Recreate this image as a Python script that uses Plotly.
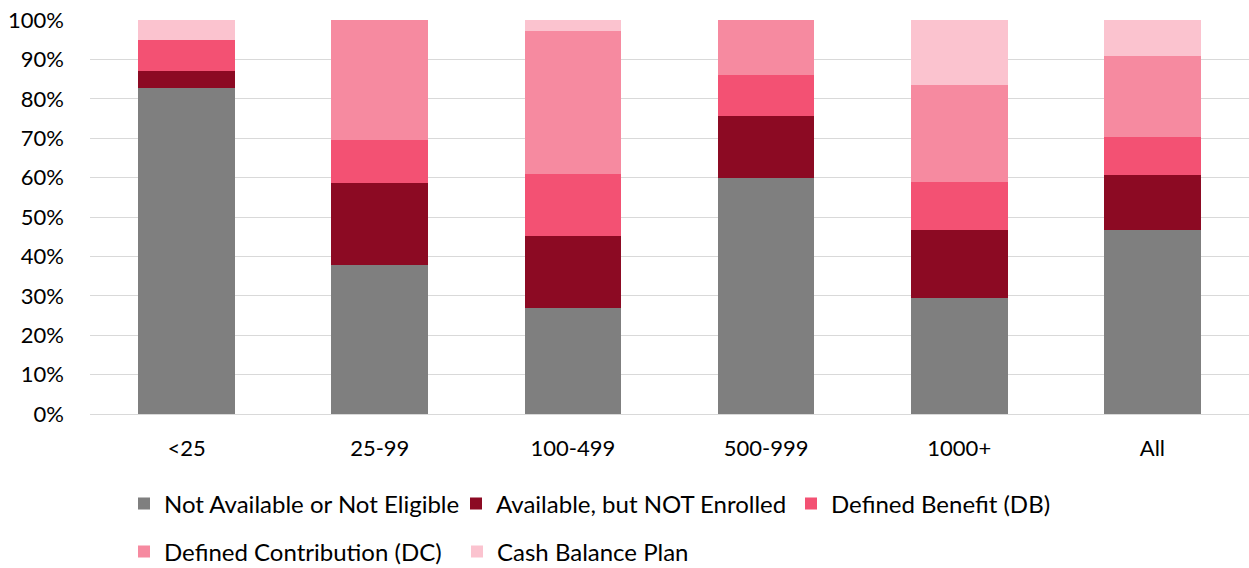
import plotly.graph_objects as go

categories = ["<25", "25-99", "100-499", "500-999", "1000+", "All"]
not_available = [82.8, 37.9, 26.8, 59.9, 29.5, 46.7]
not_enrolled = [4.2, 20.7, 18.4, 15.8, 17.2, 14.0]
defined_benefit = [8.0, 11.0, 15.8, 10.4, 12.3, 9.5]
defined_contribution = [0.0, 30.4, 36.1, 13.9, 24.4, 20.7]
cash_balance = [5.0, 0.0, 2.9, 0.0, 16.6, 9.1]

series = [
    ("Not Available or Not Eligible", not_available, "#7F7F7F"),
    ("Available, but NOT Enrolled", not_enrolled, "#8C0A23"),
    ("Defined Benefit (DB)", defined_benefit, "#F35173"),
    ("Defined Contribution (DC)", defined_contribution, "#F68AA0"),
    ("Cash Balance Plan", cash_balance, "#FBC3CF"),
]

FONT = "Lato"
W, H = 1249, 568
ML, MR, MT, MB = 90, 0, 20, 154
PW, PH = W - ML - MR, H - MT - MB

# legend positions (pixel x of legend box left, pixel y of row centre)
leg_px = [(124, 504), (456, 504), (791, 504), (124, 552), (457, 552)]

fig = go.Figure()
for i, (name, vals, col) in enumerate(series):
    lg = "legend" if i == 0 else f"legend{i+1}"
    fig.add_trace(go.Bar(
        x=categories, y=[v / 100 for v in vals], name=name,
        marker=dict(color=col, line=dict(width=0)),
        legend=lg,
    ))

layout_legends = {}
for i, (px, py) in enumerate(leg_px):
    key = "legend" if i == 0 else f"legend{i+1}"
    layout_legends[key] = dict(
        x=(px - ML) / PW, y=(MT + PH - py) / PH,
        xanchor="left", yanchor="middle", orientation="h",
        font=dict(family=FONT, size=24, color="#000000"),
        bgcolor="rgba(0,0,0,0)", itemclick=False,
    )

fig.update_layout(
    width=W, height=H, barmode="stack", bargap=0.5,
    margin=dict(l=ML, r=MR, t=MT, b=MB, autoexpand=False),
    plot_bgcolor="white", paper_bgcolor="white",
    font=dict(family=FONT, size=22, color="#000000"),
    showlegend=True,
    **layout_legends,
)
fig.update_yaxes(
    range=[0, 1], tickformat=".0%", dtick=0.1,
    showgrid=True, gridcolor="#D9D9D9", gridwidth=1.3,
    zeroline=False, showline=False, ticks="", ticklabelstandoff=25,
    tickfont=dict(family=FONT, size=22, color="#000000"),
)
fig.update_xaxes(
    showgrid=False, showline=True, linecolor="#D9D9D9", linewidth=1.3,
    ticks="", ticklabelstandoff=14,
    tickfont=dict(family=FONT, size=22, color="#000000"),
)

fig.write_html("out.html")
